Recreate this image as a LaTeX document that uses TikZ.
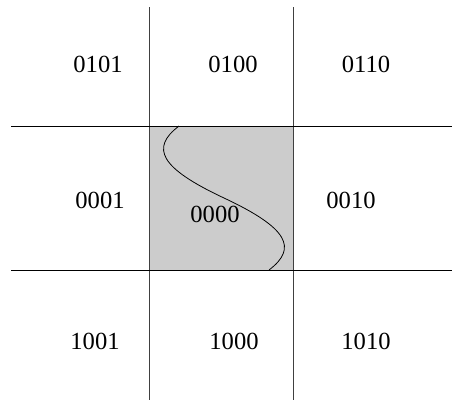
\documentclass[tikz,border=0pt]{standalone}
\usepackage{fontspec}
\setmainfont{Liberation Serif}
\begin{document}
\begin{tikzpicture}[x=0.02cm,y=-0.02cm,
  code/.style={font=\fontsize{14}{17}\selectfont,inner sep=0pt},
  gridline/.style={line width=0.45pt}]
  \useasboundingbox (0,0) rectangle (452,400);

  % region of interest
  \fill[black!20] (149,126) rectangle (293,270);

  % grid lines
  \coordinate (vl1) at (149,7);   \coordinate (vl2) at (149,400);
  \coordinate (vr1) at (293,7);   \coordinate (vr2) at (293,400);
  \coordinate (ht1) at (11,126);  \coordinate (ht2) at (452,126);
  \coordinate (hb1) at (11,270);  \coordinate (hb2) at (452,270);
  \draw[gridline,black!75] (vl1) -- (vl2);
  \draw[gridline,black!75] (vr1) -- (vr2);
  \draw[gridline] (ht1) -- (ht2);
  \draw[gridline] (hb1) -- (hb2);

  % the curve
  \draw[gridline] (179,126) .. controls (150,148) and (160,168) .. (224,198)
    .. controls (288,228) and (298,248) .. (269,270);

  % outcodes
  \node[code] (c0101) at (98,64)   {0101};
  \node[code] (c0100) at (233,64)  {0100};
  \node[code] (c0110) at (366,64)  {0110};
  \node[code] (c0001) at (100,200) {0001};
  \node[code] (c0000) at (215,214) {0000};
  \node[code] (c0010) at (351,200) {0010};
  \node[code] (c1001) at (95,341)  {1001};
  \node[code] (c1000) at (234,341) {1000};
  \node[code] (c1010) at (366,341) {1010};
\end{tikzpicture}
\end{document}
